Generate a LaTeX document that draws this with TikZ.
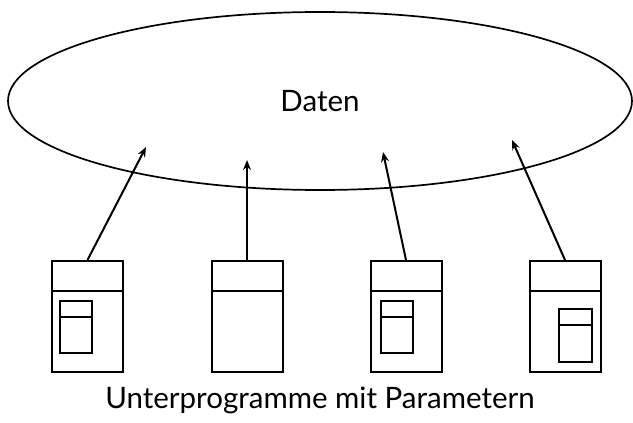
\documentclass[tikz,border=0pt]{standalone}
\usepackage{fontspec}
\setmainfont{Lato}
\usetikzlibrary{shapes.geometric,arrows.meta}
\tikzstyle{every node}=[draw=black,line width=2pt]
\tikzstyle{prog}=[rectangle,minimum width=71pt,minimum height=111pt,inner sep=0pt]
\tikzstyle{param}=[rectangle,minimum width=32pt,minimum height=52pt,inner sep=0pt]
\tikzstyle{beschrift}=[draw=none,font=\fontsize{29.5}{34}\selectfont]

\begin{document}
\begin{tikzpicture}[x=1pt,y=-1pt,line width=2pt,
      >={Stealth[length=10pt,width=8pt]}]
  \useasboundingbox (0,0) rectangle (633,423);
  \node[ellipse,minimum width=624pt,minimum height=178pt,inner sep=0pt,
        line width=1.7pt,font=\fontsize{29.5}{34}\selectfont] (daten) at (320,101) {Daten};
  % Unterprogramme
  \node[prog] (p1) at (87.5,316.5) {};
  \node[prog] (p2) at (247,316.5) {};
  \node[prog] (p3) at (406,316.5) {};
  \node[prog] (p4) at (565,316.5) {};
  \foreach \p in {p1,p2,p3,p4}
    \draw ([yshift=-31pt]\p.north west) -- ([yshift=-31pt]\p.north east);
  % Parameter
  \node[param] (i1) at (76,327) {};
  \node[param] (i3) at (397,327) {};
  \node[param,minimum width=33pt,minimum height=53pt] (i4) at (575.5,335.5) {};
  \foreach \i in {i1,i3,i4}
    \draw ([yshift=-17pt]\i.north west) -- ([yshift=-17pt]\i.north east);
  % Zugriffe
  \coordinate (t1) at (146,147);
  \coordinate (t2) at (247,160);
  \coordinate (t3) at (383,152);
  \coordinate (t4) at (512,140);
  \draw[->] (p1.north) -- (t1);
  \draw[->] (p2.north) -- (t2);
  \draw[->] (p3.north) -- (t3);
  \draw[->] (p4.north) -- (t4);
  \node[beschrift] (text) at (320,400) {Unterprogramme mit Parametern};
\end{tikzpicture}
\end{document}
